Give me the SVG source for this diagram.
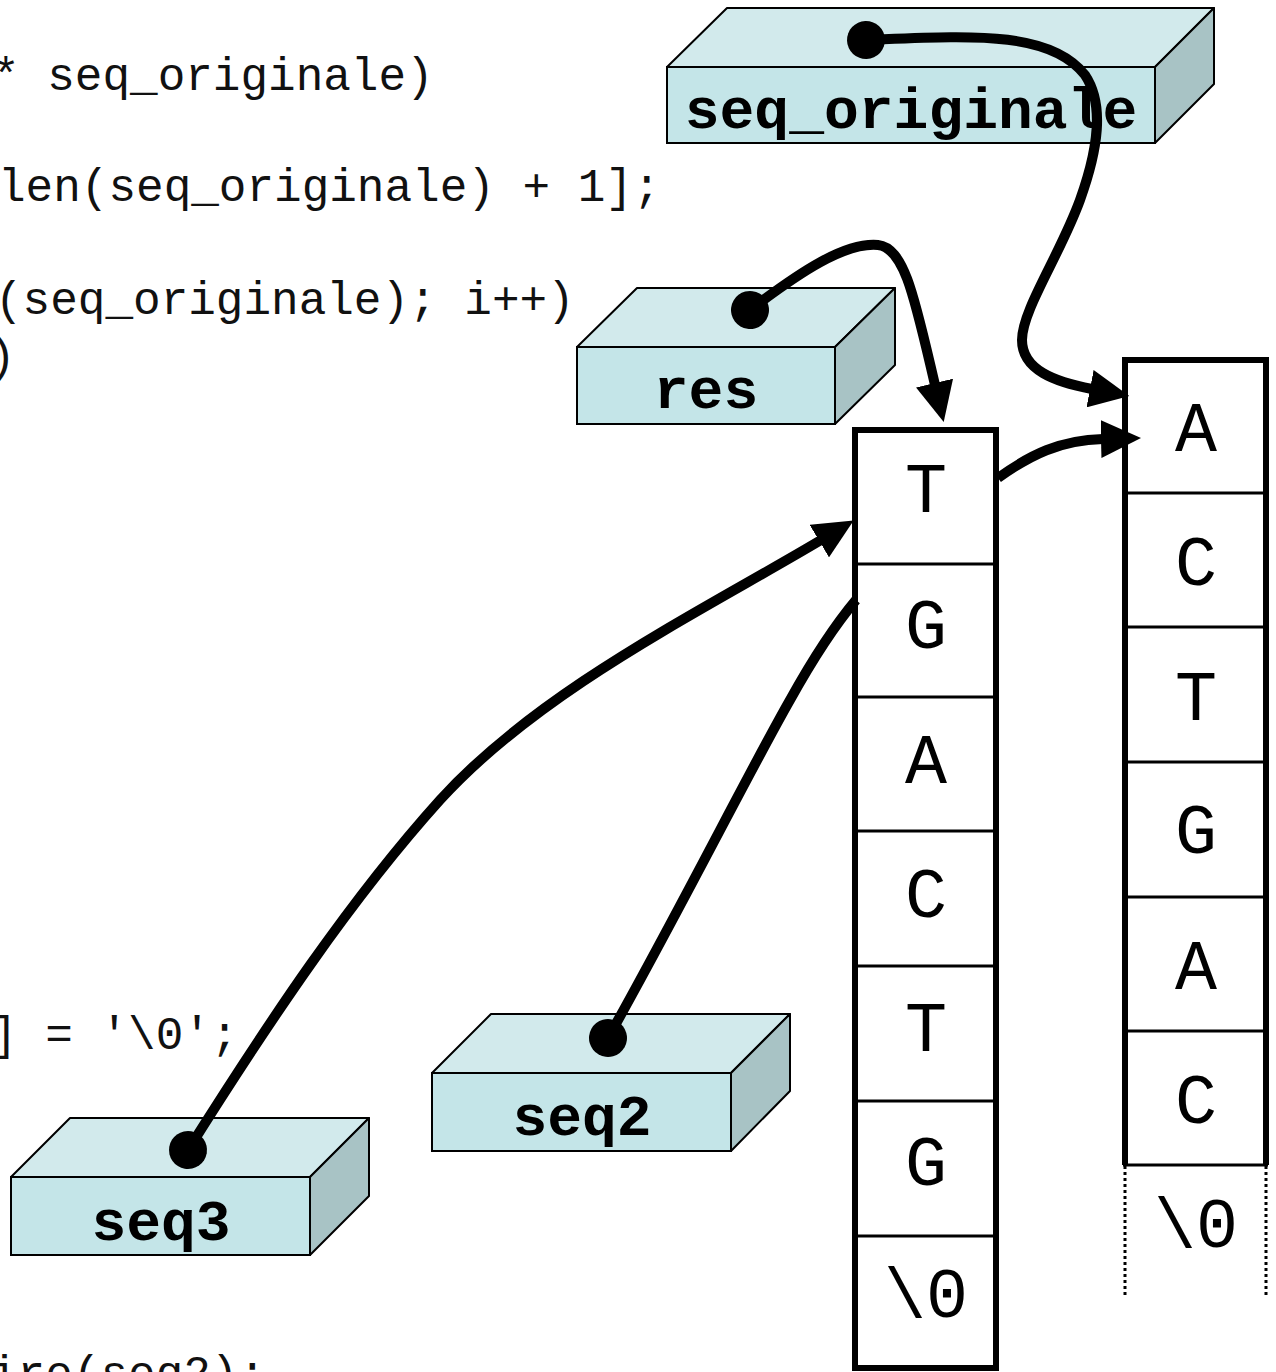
<svg xmlns="http://www.w3.org/2000/svg" width="1276" height="1372" viewBox="0 0 1276 1372">
  <style>
    .code { font-family: "Liberation Mono", "DejaVu Sans Mono", monospace; font-size: 46px; fill: #111; white-space: pre; }
    .label { font-family: "Liberation Mono", "DejaVu Sans Mono", monospace; font-size: 58px; font-weight: bold; fill: #000; text-anchor: middle; }
    .cell { font-family: "Liberation Mono", "DejaVu Sans Mono", monospace; font-size: 70px; fill: #000; text-anchor: middle; }
    .top { fill: #d2eaec; stroke: #000; stroke-width: 2; stroke-linejoin: round; }
    .front { fill: #c4e5e8; stroke: #000; stroke-width: 2; }
    .side { fill: #a8c3c5; stroke: #000; stroke-width: 2; stroke-linejoin: round; }
    .frame { fill: #fff; stroke: #000; stroke-width: 6; }
    .div { stroke: #000; stroke-width: 3; }
    .dotted { stroke: #000; stroke-width: 3; stroke-dasharray: 3 3; }
    .link { fill: none; stroke: #000; stroke-width: 10; }
  </style>
  <defs>
    <marker id="dot" markerUnits="userSpaceOnUse" viewBox="-20 -20 40 40" markerWidth="40" markerHeight="40" refX="0" refY="0" orient="auto">
      <circle cx="0" cy="0" r="19" fill="#000"/>
    </marker>
    <marker id="head" markerUnits="userSpaceOnUse" viewBox="0 0 40 38" markerWidth="40" markerHeight="38" refX="2" refY="19" orient="auto">
      <path d="M0,0 L40,19 L0,38 Z" fill="#000"/>
    </marker>
  </defs>

  <!-- code fragment on the left -->
  <g id="code">
    <text class="code" x="-8" y="90">* seq_originale)</text>
    <text class="code" x="-2" y="201">len(seq_originale) + 1];</text>
    <text class="code" x="-5" y="314">(seq_originale); i++)</text>
    <text class="code" x="-12" y="371">)</text>
    <text class="code" x="-10" y="1049">] = '\0';</text>
    <text class="code" x="-10" y="1388">ire(seq2);</text>
  </g>

  <!-- pointer variables -->
  <g id="seq_originale">
    <polygon class="top" points="667,67 727,8 1214,8 1155,67"/>
    <rect class="front" x="667" y="67" width="488" height="76"/>
    <polygon class="side" points="1155,67 1214,8 1214,84 1155,143"/>
    <text class="label" x="911" y="128">seq_originale</text>
  </g>
  <g id="res">
    <polygon class="top" points="577,347 637,288 895,288 835,347"/>
    <rect class="front" x="577" y="347" width="258" height="77"/>
    <polygon class="side" points="835,347 895,288 895,365 835,424"/>
    <text class="label" x="706" y="408">res</text>
  </g>
  <g id="seq2">
    <polygon class="top" points="432,1073 491,1014 790,1014 731,1073"/>
    <rect class="front" x="432" y="1073" width="299" height="78"/>
    <polygon class="side" points="731,1073 790,1014 790,1091 731,1151"/>
    <text class="label" x="582" y="1135">seq2</text>
  </g>
  <g id="seq3">
    <polygon class="top" points="11,1177 70,1118 369,1118 310,1177"/>
    <rect class="front" x="11" y="1177" width="299" height="78"/>
    <polygon class="side" points="310,1177 369,1118 369,1196 310,1255"/>
    <text class="label" x="161" y="1240">seq3</text>
  </g>

  <!-- array allocated for res -->
  <g id="res-array">
    <rect class="frame" x="855" y="430" width="141" height="938"/>
    <line class="div" x1="855" y1="564" x2="996" y2="564"/>
    <line class="div" x1="855" y1="697" x2="996" y2="697"/>
    <line class="div" x1="855" y1="831" x2="996" y2="831"/>
    <line class="div" x1="855" y1="966" x2="996" y2="966"/>
    <line class="div" x1="855" y1="1101" x2="996" y2="1101"/>
    <line class="div" x1="855" y1="1236" x2="996" y2="1236"/>
    <text class="cell" x="926" y="512">T</text>
    <text class="cell" x="926" y="648">G</text>
    <text class="cell" x="926" y="783">A</text>
    <text class="cell" x="926" y="917">C</text>
    <text class="cell" x="926" y="1051">T</text>
    <text class="cell" x="926" y="1185">G</text>
    <text class="cell" x="926" y="1317">\0</text>
  </g>

  <!-- original string -->
  <g id="orig-array">
    <rect x="1125" y="360" width="141" height="805" fill="#fff"/>
    <polyline points="1125,1165 1125,360 1266,360 1266,1165" fill="none" stroke="#000" stroke-width="6"/>
    <line class="div" x1="1125" y1="493" x2="1266" y2="493"/>
    <line class="div" x1="1125" y1="627" x2="1266" y2="627"/>
    <line class="div" x1="1125" y1="762" x2="1266" y2="762"/>
    <line class="div" x1="1125" y1="897" x2="1266" y2="897"/>
    <line class="div" x1="1125" y1="1031" x2="1266" y2="1031"/>
    <line class="div" x1="1123" y1="1165" x2="1268" y2="1165"/>
    <line class="dotted" x1="1125" y1="1166" x2="1125" y2="1298"/>
    <line class="dotted" x1="1266" y1="1166" x2="1266" y2="1298"/>
    <text class="cell" x="1196" y="451">A</text>
    <text class="cell" x="1196" y="585">C</text>
    <text class="cell" x="1196" y="720">T</text>
    <text class="cell" x="1196" y="853">G</text>
    <text class="cell" x="1196" y="989">A</text>
    <text class="cell" x="1196" y="1123">C</text>
    <text class="cell" x="1196" y="1247">\0</text>
  </g>

  <!-- pointers -->
  <g id="connectors">
    <path class="link" marker-start="url(#dot)" marker-end="url(#head)" d="M866,40 C970,36 1050,30 1085,75 C1105,105 1098,150 1080,200 C1060,255 1022,310 1022,340 C1022,370 1055,382 1092,389"/>
    <path class="link" marker-start="url(#dot)" marker-end="url(#head)" d="M750,310 C800,272 845,242 878,245 C905,248 915,300 935,385"/>
    <path class="link" marker-end="url(#head)" d="M998,478 C1030,455 1060,440 1103,439"/>
    <path class="link" marker-start="url(#dot)" marker-end="url(#head)" d="M188,1150 C270,1020 350,900 440,800 C540,690 700,612 821,540"/>
    <path class="link" marker-start="url(#dot)" d="M608,1038 C680,910 750,770 790,700 C815,655 835,625 856,600"/>
  </g>
</svg>
